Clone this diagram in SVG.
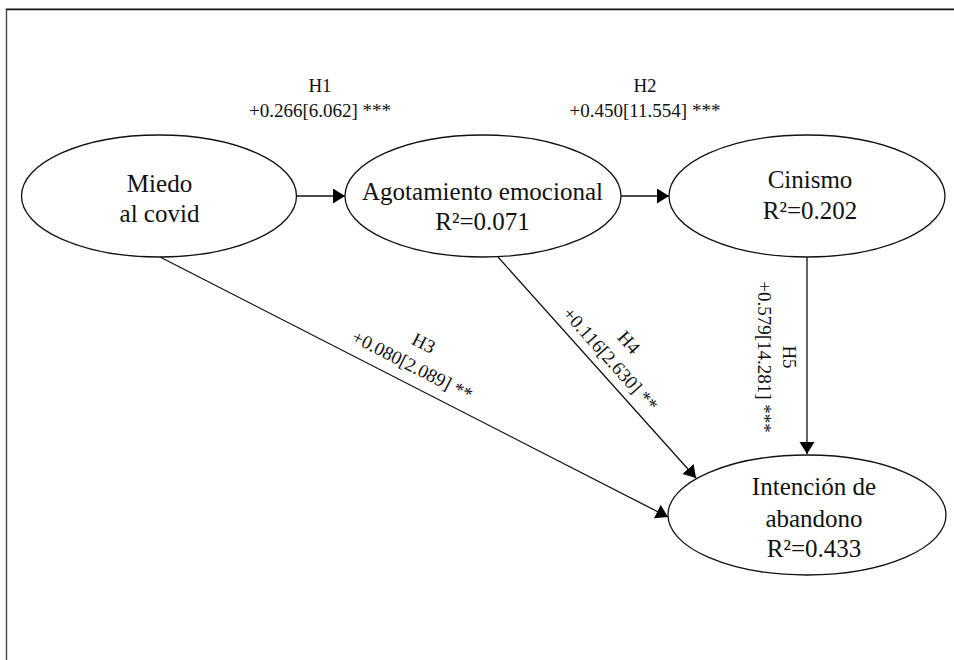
<svg xmlns="http://www.w3.org/2000/svg" width="954" height="660" viewBox="0 0 954 660">
<style>
.node ellipse{fill:#fff;stroke:#111;stroke-width:1.3}
.node text{font-family:"Liberation Serif","Times New Roman",serif;font-size:25px;fill:#111;text-anchor:middle}
.lbl{font-family:"Liberation Serif","Times New Roman",serif;font-size:19px;fill:#111;text-anchor:middle}
.edge{stroke:#111;stroke-width:1.3;fill:none;marker-end:url(#arr)}
</style>
<defs>
<marker id="arr" markerUnits="userSpaceOnUse" markerWidth="13" markerHeight="16" refX="12" refY="7.5" orient="auto">
<path d="M0,0 L12,7.5 L0,15 Z" fill="#000"/>
</marker>
</defs>
<rect width="954" height="660" fill="#fff"/>
<g id="frame">
<line x1="5.8" y1="9.3" x2="954" y2="9.3" stroke="#111" stroke-width="1.7"/>
<line x1="6.5" y1="9" x2="6.5" y2="660" stroke="#444" stroke-width="1.4"/>
</g>
<g id="connectors">
<line class="edge" x1="296.5" y1="196" x2="345" y2="196"/>
<line class="edge" x1="621" y1="196" x2="669" y2="196"/>
<line class="edge" x1="807" y1="257" x2="807" y2="454"/>
<line class="edge" x1="160" y1="257" x2="668" y2="517"/>
<line class="edge" x1="498" y1="257" x2="696" y2="478"/>
</g>
<g id="labels">
<text class="lbl" x="320" y="92">H1</text>
<text class="lbl" x="320" y="117">+0.266[6.062] ***</text>
<text class="lbl" x="645" y="92">H2</text>
<text class="lbl" x="645" y="117">+0.450[11.554] ***</text>
<g transform="translate(160,257) rotate(27.1)">
<text class="lbl" x="274" y="-37">H3</text>
<text class="lbl" x="274" y="-12">+0.080[2.089] **</text>
</g>
<g transform="translate(498,257) rotate(48.1)">
<text class="lbl" x="151" y="-34">H4</text>
<text class="lbl" x="151" y="-9">+0.116[2.630] **</text>
</g>
<g transform="translate(807,257) rotate(90)">
<text class="lbl" x="100" y="24">H5</text>
<text class="lbl" x="100" y="49">+0.579[14.281] ***</text>
</g>
</g>
<g id="miedo" class="node">
<ellipse cx="159" cy="196" rx="137.5" ry="61"/>
<text x="159.5" y="192">Miedo</text>
<text x="159.5" y="222">al covid</text>
</g>
<g id="agotamiento" class="node">
<ellipse cx="483" cy="196" rx="138" ry="61"/>
<text x="482.5" y="200">Agotamiento emocional</text>
<text x="482.5" y="230">R²=0.071</text>
</g>
<g id="cinismo" class="node">
<ellipse cx="807" cy="196" rx="138" ry="61"/>
<text x="810" y="188">Cinismo</text>
<text x="810" y="219">R²=0.202</text>
</g>
<g id="intencion" class="node">
<ellipse cx="807" cy="515" rx="139" ry="60"/>
<text x="814" y="495">Intención de</text>
<text x="814" y="527">abandono</text>
<text x="814" y="557">R²=0.433</text>
</g>
</svg>
